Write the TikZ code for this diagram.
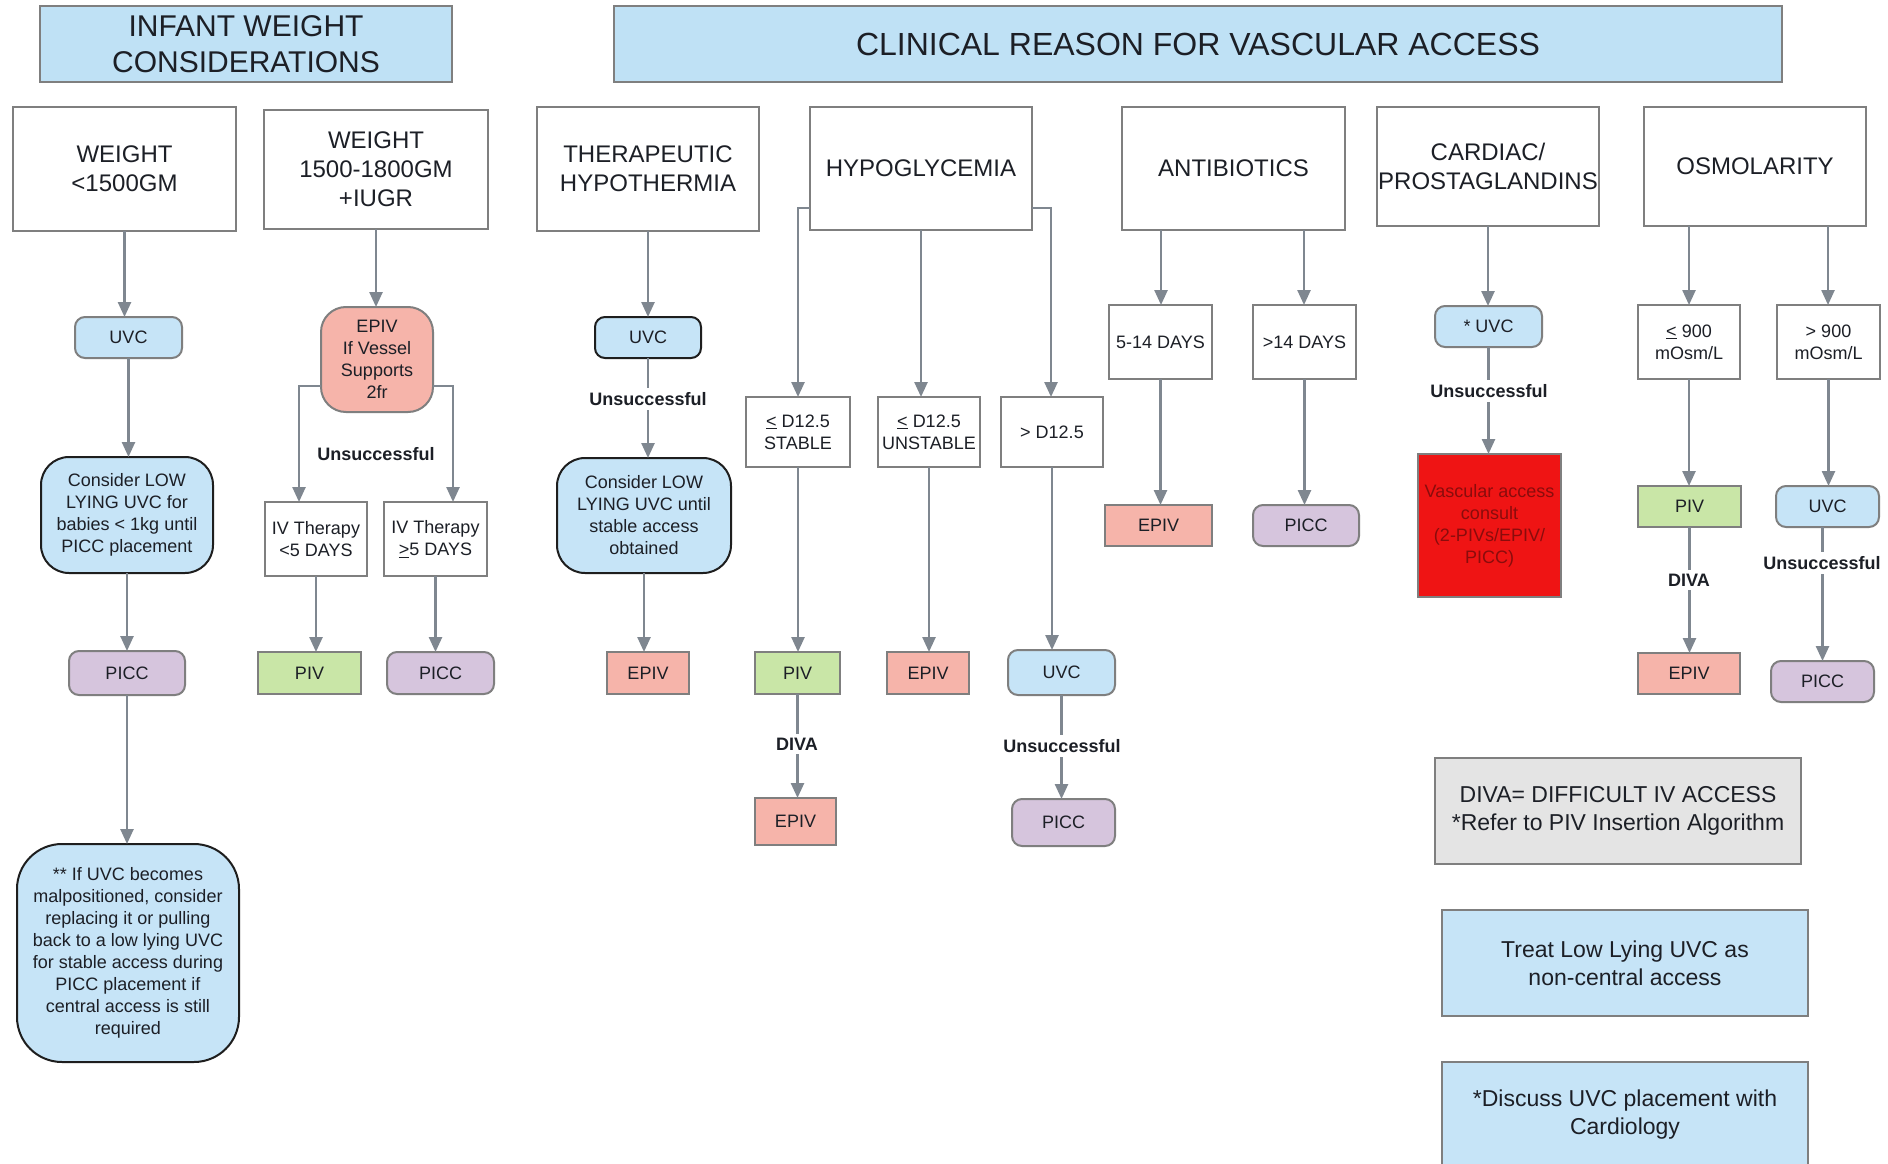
\documentclass[tikz,border=0pt]{standalone}
\usepackage{fontspec}
\setmainfont{Liberation Sans}
\usetikzlibrary{arrows.meta}
\definecolor{hdrblue}{HTML}{BFE1F5}
\definecolor{uvcblue}{HTML}{C6E4F7}
\definecolor{salmon}{HTML}{F6B4AA}
\definecolor{pivgreen}{HTML}{C9E6A7}
\definecolor{piccpurple}{HTML}{D6C5DD}
\definecolor{legendgray}{HTML}{E4E4E4}
\definecolor{vred}{HTML}{EF1414}
\definecolor{vredtext}{HTML}{8A0C0C}
\definecolor{bordergray}{HTML}{7F7F7F}
\definecolor{arrowgray}{HTML}{7F8790}
\definecolor{txt}{HTML}{1C1F26}
\definecolor{darkborder}{HTML}{1E1E1E}
\tikzset{
  base/.style={draw=bordergray, line width=2pt, align=center, inner sep=0pt, outer sep=0pt, text=txt, font=\fontsize{18}{22}\selectfont},
  sz/.style 2 args={minimum width=#1pt, minimum height=#2pt},
  hdr/.style={base, fill=hdrblue},
  cat/.style={base, fill=white, font=\fontsize{24}{29}\selectfont},
  crit/.style={base, fill=white},
  uvcbox/.style={base, fill=uvcblue, rounded corners=10pt},
  piccbox/.style={base, fill=piccpurple, rounded corners=10pt},
  pivbox/.style={base, fill=pivgreen},
  epivbox/.style={base, fill=salmon},
  lowbox/.style={base, fill=uvcblue, draw=darkborder, rounded corners=28pt},
  legend/.style={base, font=\fontsize{23}{28}\selectfont},
  lbl/.style={font=\bfseries\fontsize{18}{22}\selectfont, fill=white, inner sep=4pt, text=txt},
  arr/.style={draw=arrowgray, line width=2.5pt, -{Triangle[length=15pt,width=13pt]}},
  ln/.style={draw=arrowgray, line width=2.5pt}
}
\begin{document}
\begin{tikzpicture}[x=1pt,y=-1pt]
\useasboundingbox (0,0) rectangle (1888,1164);
\clip (0,0) rectangle (1888,1164);
\fill[white] (0,0) rectangle (1888,1164);

% headers
\node[hdr, sz={412}{76}, font=\fontsize{30}{36}\selectfont] (hA) at (246,44) {INFANT WEIGHT\\CONSIDERATIONS};
\node[hdr, sz={1168}{76}, font=\fontsize{32}{38}\selectfont] (hB) at (1198,44) {CLINICAL REASON FOR VASCULAR ACCESS};

% category boxes
\node[cat, sz={223}{124}] (w1) at (124.5,169) {WEIGHT\\<1500GM};
\node[cat, sz={224}{119}] (w2) at (376,169.5) {WEIGHT\\1500-1800GM\\+IUGR};
\node[cat, sz={222}{124}] (th) at (648,169) {THERAPEUTIC\\HYPOTHERMIA};
\node[cat, sz={222}{123}] (hy) at (921,168.5) {HYPOGLYCEMIA};
\node[cat, sz={223}{123}] (ab) at (1233.5,168.5) {ANTIBIOTICS};
\node[cat, sz={222}{119}] (ca) at (1488,166.5) {CARDIAC/\\PROSTAGLANDINS};
\node[cat, sz={222}{119}] (os) at (1755,166.5) {OSMOLARITY};

% weight < 1500
\node[uvcbox, sz={107}{41}] (uvc1) at (128.5,337.5) {UVC};
\node[lowbox, sz={172}{116}] (low1) at (127,515) {Consider LOW\\LYING UVC for\\babies < 1kg until\\PICC placement};
\node[piccbox, sz={116}{44}] (picc1) at (127,673) {PICC};
\node[base, fill=uvcblue, draw=darkborder, rounded corners=45pt, sz={222}{218}] (note1) at (128,953) {** If UVC becomes\\malpositioned, consider\\replacing it or pulling\\back to a low lying UVC\\for stable access during\\PICC placement if\\central access is still\\required};

% weight 1500-1800
\node[base, fill=salmon, rounded corners=25pt, sz={112}{105}] (epiv2) at (377,359.5) {EPIV\\If Vessel\\Supports\\2fr};
\node[crit, sz={102}{74}] (ivA) at (316,539) {IV Therapy\\<5 DAYS};
\node[crit, sz={103}{74}] (ivB) at (435.5,539) {IV Therapy\\\underline{>}5 DAYS};
\node[pivbox, sz={103}{42}] (piv2) at (309.5,673) {PIV};
\node[piccbox, sz={107}{42}] (picc2) at (440.5,673) {PICC};

% therapeutic hypothermia
\node[uvcbox, draw=darkborder, sz={106}{41}] (uvcT) at (648,337.5) {UVC};
\node[lowbox, sz={174}{115}] (lowT) at (644,515.5) {Consider LOW\\LYING UVC until\\stable access\\obtained};
\node[epivbox, sz={82}{42}] (epivT) at (648,673) {EPIV};

% hypoglycemia
\node[crit, sz={104}{70}] (stab) at (798,432) {\underline{<} D12.5\\STABLE};
\node[crit, sz={102}{70}] (unst) at (929,432) {\underline{<} D12.5\\UNSTABLE};
\node[crit, sz={102}{70}] (gtd) at (1052,432) {> D12.5};
\node[pivbox, sz={85}{42}] (pivH) at (797.5,673) {PIV};
\node[epivbox, sz={82}{42}] (epivU) at (928,673) {EPIV};
\node[uvcbox, sz={107}{45}] (uvcH) at (1061.5,672.5) {UVC};
\node[epivbox, sz={81}{47}] (epivD) at (795.5,821.5) {EPIV};
\node[piccbox, sz={103}{47}] (piccH) at (1063.5,822.5) {PICC};

% antibiotics
\node[crit, sz={103}{74}] (d514) at (1160.5,342) {5-14 DAYS};
\node[crit, sz={103}{74}] (d14) at (1304.5,342) {>14 DAYS};
\node[epivbox, sz={107}{41}] (epivA) at (1158.5,525.5) {EPIV};
\node[piccbox, sz={106}{41}] (piccA) at (1306,525.5) {PICC};

% cardiac
\node[uvcbox, sz={107}{41}] (uvcC) at (1488.5,326.5) {* UVC};
\node[base, fill=vred, text=vredtext, sz={143}{143}] (vac) at (1489.5,525.5) {Vascular access\\consult\\(2-PIVs/EPIV/\\PICC)};

% osmolarity
\node[crit, sz={102}{74}] (o1) at (1689,342) {\underline{<} 900\\mOsm/L};
\node[crit, sz={103}{74}] (o2) at (1828.5,342) {> 900\\mOsm/L};
\node[pivbox, sz={103}{41}] (pivO) at (1689.5,506.5) {PIV};
\node[uvcbox, sz={103}{41}] (uvcO) at (1827.5,506.5) {UVC};
\node[epivbox, sz={102}{41}] (epivO) at (1689,673.5) {EPIV};
\node[piccbox, sz={103}{41}] (piccO) at (1822.5,681.5) {PICC};

% legend
\node[legend, fill=legendgray, sz={366}{106}] (lgA) at (1618,811) {DIVA= DIFFICULT IV ACCESS\\*Refer to PIV Insertion Algorithm};
\node[legend, fill=uvcblue, sz={366}{106}] (lgB) at (1625,963) {Treat Low Lying UVC as\\non-central access};
\node[legend, fill=uvcblue, sz={366}{106}] (lgC) at (1625,1115) {*Discuss UVC placement with\\Cardiology};

% ---------- connectors ----------
% weight < 1500
\draw[arr] (w1.south) -- (w1.south |- uvc1.north);
\draw[arr] (uvc1.south) -- (uvc1.south |- low1.north);
\draw[arr] (low1.south) -- (low1.south |- picc1.north);
\draw[arr] (picc1.south) -- (picc1.south |- note1.north);

% weight 1500-1800
\draw[arr] (w2.south) -- (w2.south |- epiv2.north);
\coordinate (eL) at (299,386);
\coordinate (eR) at (453,386);
\draw[arr] (epiv2.west |- eL) -- (eL) -- (eL |- ivA.north);
\draw[arr] (epiv2.east |- eR) -- (eR) -- (eR |- ivB.north);
\draw[arr] (ivA.south) -- (ivA.south |- piv2.north);
\draw[arr] (ivB.south) -- (ivB.south |- picc2.north);
\node[lbl] (u2) at (376,454) {Unsuccessful};

% therapeutic hypothermia
\draw[arr] (th.south) -- (th.south |- uvcT.north);
\draw[arr] (uvcT.south) -- (uvcT.south |- lowT.north);
\draw[arr] (lowT.south) -- (lowT.south |- epivT.north);
\node[lbl] (uT) at (648,399) {Unsuccessful};

% hypoglycemia
\coordinate (hL) at (798,208);
\coordinate (hR) at (1051,208);
\draw[arr] (hy.west |- hL) -- (hL) -- (hL |- stab.north);
\draw[arr] (hy.south) -- (hy.south |- unst.north);
\draw[arr] (hy.east |- hR) -- (hR) -- (hR |- gtd.north);
\draw[arr] (stab.south) -- (stab.south |- pivH.north);
\draw[arr] (unst.south) -- (unst.south |- epivU.north);
\draw[arr] (gtd.south) -- (gtd.south |- uvcH.north);
\draw[arr] (pivH.south) -- (pivH.south |- epivD.north);
\draw[arr] (uvcH.south) -- (uvcH.south |- piccH.north);
\node[lbl] (dH) at (797,744) {DIVA};
\node[lbl] (uH) at (1062,746) {Unsuccessful};

% antibiotics
\coordinate (aL) at (1161,0);
\coordinate (aR) at (1304,0);
\draw[arr] (ab.south -| aL) -- (aL |- d514.north);
\draw[arr] (ab.south -| aR) -- (aR |- d14.north);
\draw[arr] (d514.south) -- (d514.south |- epivA.north);
\draw[arr] (d14.south) -- (d14.south |- piccA.north);

% cardiac
\draw[arr] (ca.south) -- (ca.south |- uvcC.north);
\draw[arr] (uvcC.south) -- (uvcC.south |- vac.north);
\node[lbl] (uC) at (1489,391) {Unsuccessful};

% osmolarity
\coordinate (oL) at (1689,0);
\coordinate (oR) at (1828,0);
\draw[arr] (os.south -| oL) -- (oL |- o1.north);
\draw[arr] (os.south -| oR) -- (oR |- o2.north);
\draw[arr] (o1.south) -- (o1.south |- pivO.north);
\draw[arr] (o2.south) -- (o2.south |- uvcO.north);
\draw[arr] (pivO.south) -- (pivO.south |- epivO.north);
\draw[arr] (uvcO.south -| piccO) -- (piccO.north);
\node[lbl] (dO) at (1689,580) {DIVA};
\node[lbl] (uO) at (1822,563) {Unsuccessful};
\end{tikzpicture}
\end{document}
